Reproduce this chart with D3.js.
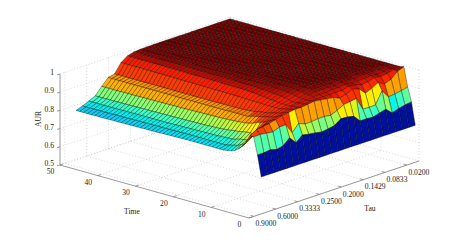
<!DOCTYPE html>
<html><head><meta charset="utf-8"><style>html,body{margin:0;background:#fff}svg{display:block}text{font-family:"Liberation Serif",serif;font-size:7.6px;fill:#222}</style>
<script src="https://cdnjs.cloudflare.com/ajax/libs/d3/7.8.5/d3.min.js"></script></head><body><div id="c"></div>
<script>
const tauLabels=["0.9000","0.6000","0.3333","0.2500","0.2000","0.1429","0.0833","0.0200"];
const timeTicks=[0,10,20,30,40,50];
const aurTicks=[0.5,0.6,0.7,0.8,0.9,1];
// rows: Time = 1..50, columns: 25 tau samples from 0.9 to 0.02
const aur=[
[.69,.69,.69,.69,.69,.69,.69,.69,.69,.69,.69,.69,.69,.69,.69,.69,.69,.69,.69,.69,.69,.69,.69,.69,.69],
[.805,.805,.81,.80,.808,.84,.802,.832,.825,.82,.813,.818,.825,.85,.848,.84,.803,.803,.80,.81,.82,.788,.80,.808,.813],
[.898,.90,.895,.89,.905,.906,.85,.89,.875,.875,.88,.88,.875,.89,.91,.915,.92,.85,.848,.85,.915,.87,.875,.88,.889],
[.90,.92,.925,.93,.94,.95,.955,.96,.96,.965,.97,.965,.96,.955,.94,.95,.965,.955,.92,.935,.955,.935,.95,.98,.995],
[.86,.885,.90,.92,.93,.94,.95,.955,.955,.96,.965,.965,.965,.965,.965,.965,.975,.97,.96,.965,.975,.97,.975,.985,.99],
[.83,.85,.875,.90,.92,.93,.94,.95,.955,.96,.965,.97,.97,.97,.975,.975,.98,.975,.975,.975,.98,.975,.98,.985,.99],
[.81,.825,.85,.885,.91,.925,.935,.945,.95,.955,.965,.975,.98,.98,.98,.98,.985,.985,.98,.985,.985,.985,.985,.988,.99],
[.795,.815,.83,.85,.90,.92,.93,.94,.95,.955,.965,.975,.985,.985,.985,.985,.988,.988,.985,.988,.988,.988,.988,.99,.99],
[.787,.805,.825,.85,.895,.915,.925,.94,.95,.96,.97,.98,.985,.988,.988,.988,.99,.99,.988,.99,.99,.99,.99,.99,.99],
[.783,.80,.822,.848,.885,.91,.92,.94,.95,.965,.975,.982,.988,.99,.99,.99,.99,.99,.99,.99,.99,.99,.99,.99,.99],
[.78,.795,.815,.845,.88,.905,.917,.94,.955,.968,.978,.985,.988,.99,.99,.99,.99,.99,.99,.99,.99,.99,.99,.99,.99],
[.78,.79,.81,.84,.875,.90,.915,.94,.955,.97,.98,.985,.99,.99,.99,.99,.99,.99,.99,.99,.99,.99,.99,.99,.99],
[.78,.79,.81,.838,.873,.893,.908,.942,.958,.972,.98,.986,.99,.99,.99,.99,.99,.99,.99,.99,.99,.99,.99,.99,.99],
[.78,.79,.808,.835,.871,.893,.906,.942,.96,.974,.982,.986,.99,.99,.99,.99,.99,.99,.99,.99,.99,.99,.99,.99,.99],
[.78,.79,.808,.832,.87,.893,.904,.943,.962,.975,.983,.987,.99,.99,.99,.99,.99,.99,.99,.99,.99,.99,.99,.99,.99],
[.78,.79,.806,.83,.868,.893,.903,.943,.965,.977,.984,.987,.99,.99,.99,.99,.99,.99,.99,.99,.99,.99,.99,.99,.99],
[.78,.79,.806,.828,.867,.893,.902,.944,.967,.978,.985,.988,.99,.99,.99,.99,.99,.99,.99,.99,.99,.99,.99,.99,.99],
[.78,.79,.805,.827,.866,.893,.902,.944,.968,.979,.985,.988,.99,.99,.99,.99,.99,.99,.99,.99,.99,.99,.99,.99,.99],
[.78,.79,.805,.826,.865,.892,.901,.945,.969,.98,.985,.988,.99,.99,.99,.99,.99,.99,.99,.99,.99,.99,.99,.99,.99],
[.78,.79,.805,.825,.865,.892,.901,.945,.97,.98,.985,.988,.99,.99,.99,.99,.99,.99,.99,.99,.99,.99,.99,.99,.99],
[.78,.79,.804,.824,.864,.892,.901,.945,.97,.981,.986,.988,.99,.99,.99,.99,.99,.99,.99,.99,.99,.99,.99,.99,.99],
[.779,.79,.804,.824,.864,.892,.901,.945,.97,.981,.986,.988,.99,.99,.99,.99,.99,.99,.99,.99,.99,.99,.99,.99,.99],
[.779,.79,.803,.823,.863,.892,.90,.946,.971,.982,.986,.989,.99,.99,.99,.99,.99,.99,.99,.99,.99,.99,.99,.99,.99],
[.778,.789,.803,.823,.863,.892,.90,.946,.971,.982,.986,.989,.99,.99,.99,.99,.99,.99,.99,.99,.99,.99,.99,.99,.99],
[.778,.789,.802,.822,.862,.892,.90,.946,.971,.982,.986,.989,.99,.99,.99,.99,.99,.99,.99,.99,.99,.99,.99,.99,.99],
[.777,.789,.802,.822,.862,.892,.90,.946,.972,.983,.987,.989,.99,.99,.99,.99,.99,.99,.99,.99,.99,.99,.99,.99,.99],
[.777,.788,.801,.821,.861,.892,.90,.947,.972,.983,.987,.989,.99,.99,.99,.99,.99,.99,.99,.99,.99,.99,.99,.99,.99],
[.776,.788,.801,.821,.861,.892,.90,.947,.972,.983,.987,.989,.99,.99,.99,.99,.99,.99,.99,.99,.99,.99,.99,.99,.99],
[.776,.788,.80,.82,.86,.892,.90,.947,.972,.983,.987,.989,.99,.99,.99,.99,.99,.99,.99,.99,.99,.99,.99,.99,.99],
[.775,.788,.80,.82,.86,.892,.90,.947,.972,.983,.987,.989,.99,.99,.99,.99,.99,.99,.99,.99,.99,.99,.99,.99,.99],
[.775,.787,.80,.82,.86,.892,.90,.948,.973,.984,.987,.989,.99,.99,.99,.99,.99,.99,.99,.99,.99,.99,.99,.99,.99],
[.775,.787,.80,.819,.859,.892,.90,.948,.973,.984,.987,.989,.99,.99,.99,.99,.99,.99,.99,.99,.99,.99,.99,.99,.99],
[.774,.787,.80,.819,.859,.892,.90,.948,.973,.984,.987,.989,.99,.99,.99,.99,.99,.99,.99,.99,.99,.99,.99,.99,.99],
[.774,.786,.80,.819,.859,.892,.90,.948,.973,.984,.988,.989,.99,.99,.99,.99,.99,.99,.99,.99,.99,.99,.99,.99,.99],
[.774,.786,.80,.818,.858,.892,.90,.948,.974,.984,.988,.989,.99,.99,.99,.99,.99,.99,.99,.99,.99,.99,.99,.99,.99],
[.773,.786,.80,.818,.858,.892,.90,.948,.974,.984,.988,.989,.99,.99,.99,.99,.99,.99,.99,.99,.99,.99,.99,.99,.99],
[.773,.786,.80,.818,.858,.892,.90,.949,.974,.984,.988,.989,.99,.99,.99,.99,.99,.99,.99,.99,.99,.99,.99,.99,.99],
[.773,.785,.799,.817,.857,.892,.90,.949,.974,.985,.988,.989,.99,.99,.99,.99,.99,.99,.99,.99,.99,.99,.99,.99,.99],
[.772,.785,.799,.817,.857,.892,.90,.949,.974,.985,.988,.989,.99,.99,.99,.99,.99,.99,.99,.99,.99,.99,.99,.99,.99],
[.772,.785,.799,.817,.857,.892,.90,.949,.974,.985,.988,.989,.99,.99,.99,.99,.99,.99,.99,.99,.99,.99,.99,.99,.99],
[.772,.785,.799,.816,.856,.892,.90,.949,.975,.985,.988,.989,.99,.99,.99,.99,.99,.99,.99,.99,.99,.99,.99,.99,.99],
[.771,.784,.798,.816,.856,.892,.90,.95,.975,.985,.988,.989,.99,.99,.99,.99,.99,.99,.99,.99,.99,.99,.99,.99,.99],
[.771,.784,.798,.816,.856,.892,.90,.95,.975,.985,.988,.989,.99,.99,.99,.99,.99,.99,.99,.99,.99,.99,.99,.99,.99],
[.771,.784,.798,.816,.856,.892,.90,.95,.975,.985,.988,.989,.99,.99,.99,.99,.99,.99,.99,.99,.99,.99,.99,.99,.99],
[.771,.784,.798,.815,.855,.892,.90,.95,.975,.985,.988,.989,.99,.99,.99,.99,.99,.99,.99,.99,.99,.99,.99,.99,.99],
[.77,.783,.798,.815,.855,.892,.90,.95,.975,.985,.988,.989,.99,.99,.99,.99,.99,.99,.99,.99,.99,.99,.99,.99,.99],
[.77,.783,.798,.815,.855,.892,.90,.95,.975,.985,.988,.989,.99,.99,.99,.99,.99,.99,.99,.99,.99,.99,.99,.99,.99],
[.77,.783,.798,.815,.855,.892,.90,.95,.975,.985,.988,.989,.99,.99,.99,.99,.99,.99,.99,.99,.99,.99,.99,.99,.99],
[.77,.783,.798,.815,.855,.892,.90,.95,.975,.985,.988,.989,.99,.99,.99,.99,.99,.99,.99,.99,.99,.99,.99,.99,.99],
[.77,.783,.798,.815,.855,.892,.90,.95,.975,.985,.988,.989,.99,.99,.99,.99,.99,.99,.99,.99,.99,.99,.99,.99,.99]
];
const W=463,H=245;
const svg=d3.select("#c").append("svg").attr("width",W).attr("height",H);
// oblique projection built from linear scales
const tx=d3.scaleLinear([0,50],[0,-189]),ty=d3.scaleLinear([0,50],[0,-53]);
const ux=d3.scaleLinear([0,7],[0,170]),uy=d3.scaleLinear([0,7],[0,-57]);
const zy=d3.scaleLinear([.5,1],[0,-91]);
const O=[249,218];
const P=(t,u,z=.5)=>[O[0]+tx(t)+ux(u),O[1]+ty(t)+uy(u)+zy(z)];
const colU=d3.scaleLinear([0,24],[.66,7]);
const tauPos=d3.scalePoint(tauLabels,[.2,6.5]);
const jet=d3.scaleLinear()
 .domain([.69,.72,.745,.76,.785,.80,.82,.85,.855,.892,.896,.945,.965,.98,.99])
 .range(["#00109a","#0030d0","#0080ff","#14b4fa","#00f0f0","#3cffc3","#96ff64","#fff000","#ffb000","#ff9400","#ff3c00","#ff2000","#d81000","#a00800","#7d0000"])
 .clamp(true);
const line=d3.line();
const grid=svg.append("g").attr("fill","none").attr("stroke","#c8c8c8").attr("stroke-width",.7).attr("stroke-dasharray","1 2");
const seg=(a,b)=>grid.append("path").attr("d",line([a,b]));
aurTicks.forEach(z=>{seg(P(50,0,z),P(50,7,z));seg(P(50,7,z),P(0,7,z));});
timeTicks.forEach(t=>{seg(P(t,0),P(t,7));seg(P(t,7),P(t,7,1));});
tauLabels.forEach(l=>{const u=tauPos(l);seg(P(0,u),P(50,u));seg(P(50,u),P(50,u,1));});
const axis=svg.append("g").attr("fill","none").attr("stroke","#808080").attr("stroke-width",.8);
axis.append("path").attr("d",line([P(50,0,1),P(50,0),P(0,0),P(0,7)]));
aurTicks.forEach(z=>{const p=P(50,0,z);axis.append("path").attr("d",line([p,[p[0]-3,p[1]+.8]]));});
timeTicks.forEach(t=>{const p=P(t,0);axis.append("path").attr("d",line([p,[p[0]+3,p[1]-1]]));});
tauLabels.forEach(l=>{const p=P(0,tauPos(l));axis.append("path").attr("d",line([p,[p[0]-3,p[1]-.9]]));});
// surface painted far to near
const g=svg.append("g").attr("stroke","#000").attr("stroke-opacity",.7).attr("stroke-width",.5).attr("stroke-linejoin","round");
for(let i=aur.length-2;i>=0;i--){
 for(let j=aur[0].length-2;j>=0;j--){
  const a=P(i+1,colU(j),aur[i][j]),b=P(i+2,colU(j),aur[i+1][j]),c=P(i+2,colU(j+1),aur[i+1][j+1]),d=P(i+1,colU(j+1),aur[i][j+1]);
  g.append("path").attr("d",line([a,b,c,d])+"Z").attr("fill",jet(aur[i][j]));
 }
}
const T=(x,y,s,a="middle")=>svg.append("text").attr("x",x).attr("y",y).attr("text-anchor",a).attr("dominant-baseline","middle").text(s);
aurTicks.forEach(z=>{const p=P(50,0,z);T(p[0]-6,p[1]-.5,z,"end");});
timeTicks.forEach(t=>{const p=P(t,0);T(p[0]-9.5,p[1]+7.5,t);});
tauLabels.forEach(l=>{const p=P(0,tauPos(l));T(p[0]+12,p[1]+8,l);});
T(132,212,"Time");T(370,209,"Tau");
svg.append("text").attr("transform","translate(39,119) rotate(-90)").attr("text-anchor","middle").attr("dominant-baseline","middle").text("AUR");
</script></body></html>
